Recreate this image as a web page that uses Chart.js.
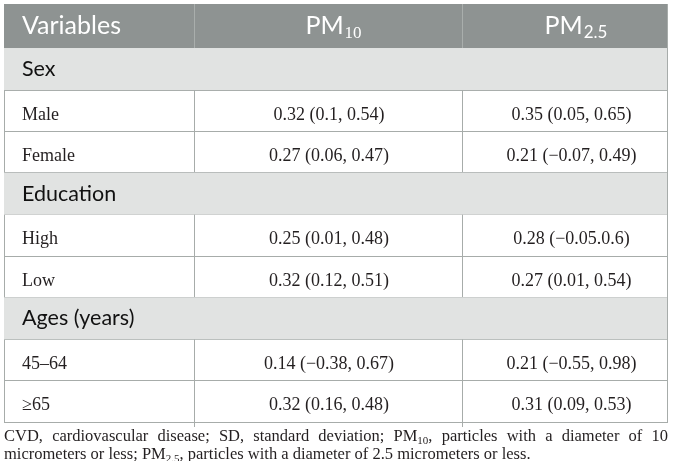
<!DOCTYPE html>
<html>
<head>
<meta charset="utf-8">
<script src="https://cdn.jsdelivr.net/npm/chart.js@4.4.1/dist/chart.umd.min.js"></script>
<style>
  body { margin: 0; background: #fff; }
  #wrap { width: 673px; height: 461px; overflow: hidden; }
  #table { display: block; }
  #note { font: 16.5px "Liberation Serif", serif; line-height: 18px; color: #231f20; margin: -1px 0 0 4px; width: 664px; text-align: justify; }
  #note sub { font-size: 11px; vertical-align: -3px; line-height: 0; }
</style>
</head>
<body>
<div id="wrap">
  <canvas id="table" width="673" height="428"></canvas>
  <div id="note">CVD, cardiovascular disease; SD, standard deviation; PM<sub>10</sub>, particles with a diameter of 10 micrometers or less; PM<sub>2.5</sub>, particles with a diameter of 2.5 micrometers or less.</div>
</div>
<script>
const headerLabels = ['Variables', 'PM', 'PM'];
const headerSubs = ['', '10', '2.5'];
const rowLabels = ['Sex', 'Male', 'Female', 'Education', 'High', 'Low', 'Ages (years)', '45–64', '≥65'];
const groupLabels = ['Sex', 'Education', 'Ages (years)'];
const pm10 = ['', '0.32 (0.1, 0.54)', '0.27 (0.06, 0.47)', '', '0.25 (0.01, 0.48)', '0.32 (0.12, 0.51)', '', '0.14 (−0.38, 0.67)', '0.32 (0.16, 0.48)'];
const pm25 = ['', '0.35 (0.05, 0.65)', '0.21 (−0.07, 0.49)', '', '0.28 (−0.05.0.6)', '0.27 (0.01, 0.54)', '', '0.21 (−0.55, 0.98)', '0.31 (0.09, 0.53)'];

// layout
const colWidths = [190, 268, 205];
const colShift = [0, 1, 7];
const headShift = [0, 5, 11];
const headerH = 44, groupH = 42, rowH = 41.3;
const lineColor = '#a7acaa';

const colEdges = colWidths.reduce((a, w) => { a.push(a[a.length - 1] + w); return a; }, [0]);
const isGroup = i => groupLabels.includes(rowLabels[i]);
const rowEdges = [0, headerH];
rowLabels.forEach((l, i) => rowEdges.push(rowEdges[rowEdges.length - 1] + (isGroup(i) ? groupH : rowH)));
const tableW = colEdges[colEdges.length - 1];
const tableH = rowEdges[rowEdges.length - 1];

const tablePlugin = {
  id: 'tablePlugin',
  beforeDatasetsDraw(chart) {
    const { ctx, scales: { x, y } } = chart;
    const band = (k, color) => {
      const y0 = y.getPixelForValue(rowEdges[k]);
      const y1 = y.getPixelForValue(rowEdges[k + 1]);
      ctx.fillStyle = color;
      ctx.fillRect(x.getPixelForValue(0), y0, x.getPixelForValue(tableW) - x.getPixelForValue(0), y1 - y0);
    };
    const divider = (k, color) => {
      ctx.strokeStyle = color;
      ctx.lineWidth = 1;
      colEdges.slice(1, -1).forEach(v => {
        const px = Math.round(x.getPixelForValue(v)) + 0.5;
        ctx.beginPath();
        ctx.moveTo(px, y.getPixelForValue(rowEdges[k]));
        ctx.lineTo(px, y.getPixelForValue(rowEdges[k + 1]));
        ctx.stroke();
      });
    };
    ctx.save();
    band(0, '#8e9392');
    divider(0, '#a9aeac');
    rowLabels.forEach((l, i) => {
      if (isGroup(i)) band(i + 1, '#e1e3e2');
      else divider(i + 1, lineColor);
    });
    ctx.restore();
  },
  afterDatasetsDraw(chart) {
    const { ctx, scales: { x, y } } = chart;
    const mid = k => (y.getPixelForValue(rowEdges[k]) + y.getPixelForValue(rowEdges[k + 1])) / 2;
    const colMid = c => x.getPixelForValue((colEdges[c] + colEdges[c + 1]) / 2);
    const leftX = x.getPixelForValue(18);
    ctx.save();
    ctx.textBaseline = 'alphabetic';

    // header
    const hy = mid(0) + 8;
    ctx.fillStyle = '#ffffff';
    ctx.font = '25px Lato';
    ctx.textAlign = 'left';
    ctx.fillText(headerLabels[0], leftX, hy);
    [1, 2].forEach(c => {
      ctx.font = '25px Lato';
      const w1 = ctx.measureText(headerLabels[c]).width;
      ctx.font = c === 1 ? '17px "Liberation Serif"' : '17px Lato';
      const w2 = ctx.measureText(headerSubs[c]).width;
      const start = colMid(c) + headShift[c] - (w1 + w2) / 2;
      ctx.font = '25px Lato';
      ctx.fillText(headerLabels[c], start, hy);
      ctx.font = c === 1 ? '17px "Liberation Serif"' : '17px Lato';
      ctx.fillText(headerSubs[c], start + w1 + 1, hy + 4);
    });

    rowLabels.forEach((label, i) => {
      const k = i + 1;
      if (isGroup(i)) {
        ctx.fillStyle = '#111111';
        ctx.font = '21.5px Lato';
        ctx.textAlign = 'left';
        ctx.fillText(label, leftX, mid(k) + 7);
        return;
      }
      const by = mid(k) + 9;
      ctx.fillStyle = '#231f20';
      ctx.font = '18px "Liberation Serif"';
      ctx.textAlign = 'left';
      ctx.fillText(label, leftX, by);
      ctx.textAlign = 'center';
      ctx.fillText(pm10[i], colMid(1) + colShift[1], by);
      ctx.fillText(pm25[i], colMid(2) + colShift[2], by);
    });
    ctx.restore();
  }
};

new Chart(document.getElementById('table'), {
  type: 'scatter',
  data: { datasets: [] },
  options: {
    responsive: false,
    animation: false,
    layout: { padding: { top: 4, left: 4, right: 6, bottom: 1 } },
    plugins: { legend: { display: false }, tooltip: { enabled: false } },
    scales: {
      x: {
        type: 'linear', min: 0, max: tableW, z: 1,
        afterBuildTicks: s => { s.ticks = colEdges.slice(1, -1).map(v => ({ value: v })); },
        ticks: { display: false },
        grid: { drawOnChartArea: false, drawTicks: true, tickLength: 5, color: lineColor },
        border: { display: true, color: lineColor }
      },
      y: {
        type: 'linear', min: 0, max: tableH, reverse: true, z: 1,
        afterBuildTicks: s => { s.ticks = rowEdges.map(v => ({ value: v })); },
        ticks: { display: false },
        grid: { drawTicks: false, color: lineColor },
        border: { display: true, color: lineColor }
      },
      y2: {
        type: 'linear', position: 'right', min: 0, max: tableH, z: 1,
        ticks: { display: false },
        grid: { display: false, drawTicks: false },
        border: { display: true, color: lineColor }
      }
    }
  },
  plugins: [tablePlugin]
});
</script>
</body>
</html>
